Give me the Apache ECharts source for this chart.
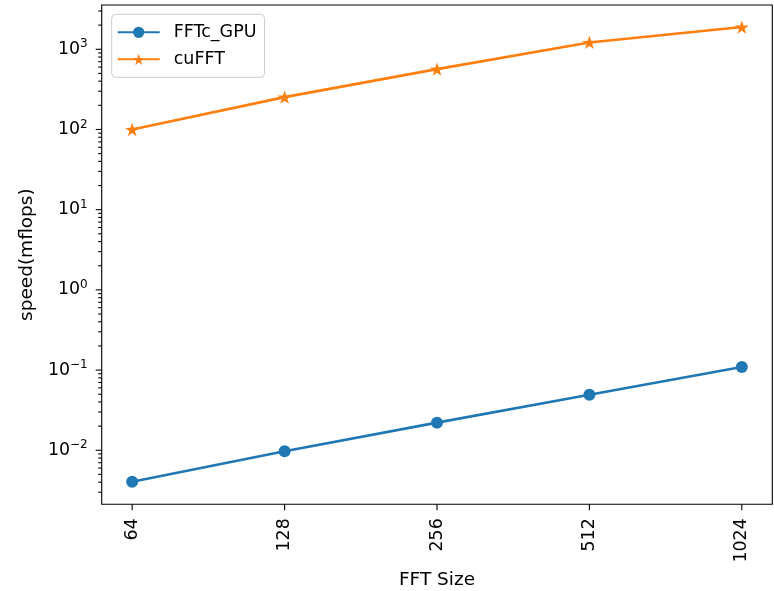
<!DOCTYPE html>
<html>
<head>
<meta charset="utf-8">
<script src="https://cdn.jsdelivr.net/npm/echarts@6/dist/echarts.min.js"></script>
<style>html,body{margin:0;padding:0;background:#fff;}#chart{width:774px;height:591px;}</style>
</head>
<body>
<div id="chart"></div>
<script>
// ---- data ----
var fftSizes = [64, 128, 256, 512, 1024];
var fftcGpu = [0.00406, 0.00972, 0.0221, 0.0493, 0.109];
var cuFFT = [100, 253, 566, 1216, 1892];
var seriesNames = ['FFTc_GPU', 'cuFFT'];
var yMajorTicks = [0.01, 0.1, 1, 10, 100, 1000];
var xTicks = [64, 128, 256, 512, 1024];
var xMin = 55.72, xMax = 1176.3;
var yMin = 0.00212, yMax = 3565;

// minor ticks for the log y axis (2..9 x 10^n)
var yMinorTicks = [];
for (var e = -3; e <= 3; e++) {
  for (var m = 2; m <= 9; m++) {
    var v = m * Math.pow(10, e);
    if (v > yMin && v < yMax) yMinorTicks.push(v);
  }
}

var tickData = [];
yMajorTicks.forEach(function (v) { tickData.push([xMin, v, 0]); });
yMinorTicks.forEach(function (v) { tickData.push([xMin, v, 1]); });
xTicks.forEach(function (v) { tickData.push([v, yMin, 2]); });

var FONT = 'DejaVu Sans';
var starPath = 'path://M0,-10L2.35,-3.24L9.51,-3.09L3.8,1.24L5.88,8.09L0,4L-5.88,8.09L-3.8,1.24L-9.51,-3.09L-2.35,-3.24Z';

function supText(n) {
  return n < 0 ? '\u2212' + (-n) : String(n);
}

var chart = echarts.init(document.getElementById('chart'), null, {renderer: 'canvas'});
chart.setOption({
  animation: false,
  backgroundColor: '#ffffff',
  textStyle: {fontFamily: FONT, color: '#000'},
  grid: {
    left: 101.7, right: 1.7, top: 5, bottom: 86.7,
    containLabel: false, outerBoundsMode: 'none',
    show: true, borderColor: '#000', borderWidth: 1.1, backgroundColor: 'transparent'
  },
  legend: {
    data: seriesNames,
    orient: 'vertical',
    left: 111.7, top: 14.3,
    padding: [9, 8, 9, 5],
    itemWidth: 42, itemHeight: 14, itemGap: 9,
    backgroundColor: 'rgba(255,255,255,0.8)',
    borderColor: '#cccccc', borderWidth: 1, borderRadius: 4,
    textStyle: {fontFamily: FONT, fontSize: 17.5, color: '#000', lineHeight: 14, padding: [0, 0, 0, 9]}
  },
  xAxis: {
    type: 'log', logBase: 2, min: xMin, max: xMax,
    name: 'FFT Size', nameLocation: 'middle', nameGap: 65,
    nameTextStyle: {fontFamily: FONT, fontSize: 18.5, color: '#000'},
    axisLine: {show: false}, axisTick: {show: false}, splitLine: {show: false},
    axisLabel: {
      rotate: 90, margin: 14, fontFamily: FONT, fontSize: 17.4, color: '#000',
      showMinLabel: true, showMaxLabel: true,
      formatter: function (v) {
        var l = Math.log(v) / Math.LN2;
        if (Math.abs(l - Math.round(l)) > 1e-6) return '';
        return String(Math.round(v));
      }
    }
  },
  yAxis: {
    type: 'log', logBase: 10, min: yMin, max: yMax,
    name: 'speed(mflops)', nameLocation: 'middle', nameGap: 64,
    nameTextStyle: {fontFamily: FONT, fontSize: 18.5, color: '#000'},
    axisLine: {show: false}, axisTick: {show: false}, splitLine: {show: false},
    axisLabel: {
      margin: 14, fontFamily: FONT, color: '#000',
      formatter: function (v) {
        var l = Math.log10(v);
        if (Math.abs(l - Math.round(l)) > 1e-6) return '';
        return '{b|10}{sup|' + supText(Math.round(l)) + '}';
      },
      rich: {
        b: {fontFamily: FONT, fontSize: 17.4, color: '#000', lineHeight: 22},
        sup: {fontFamily: FONT, fontSize: 12, color: '#000', verticalAlign: 'top', lineHeight: 12}
      }
    }
  },
  series: [
    {
      name: seriesNames[0], type: 'line',
      data: fftSizes.map(function (s, i) { return [s, fftcGpu[i]]; }),
      symbol: 'circle', symbolSize: 12,
      lineStyle: {width: 2.6, color: '#1f77b4'},
      itemStyle: {color: '#1f77b4'},
      z: 3
    },
    {
      name: seriesNames[1], type: 'line',
      data: fftSizes.map(function (s, i) { return [s, cuFFT[i]]; }),
      symbol: starPath, symbolSize: 14, symbolKeepAspect: true,
      lineStyle: {width: 2.6, color: '#ff7f0e'},
      itemStyle: {color: '#ff7f0e'},
      z: 3
    },
    {
      name: 'ticks', type: 'custom', silent: true, clip: false,
      data: tickData,
      encode: {x: 0, y: 1},
      renderItem: function (params, api) {
        var p = api.coord([api.value(0), api.value(1)]);
        var kind = api.value(2);
        var shape;
        if (kind === 0) shape = {x1: p[0] - 6, y1: p[1], x2: p[0], y2: p[1]};
        else if (kind === 1) shape = {x1: p[0] - 3.5, y1: p[1], x2: p[0], y2: p[1]};
        else shape = {x1: p[0], y1: p[1], x2: p[0], y2: p[1] + 6};
        return {type: 'line', shape: shape, style: {stroke: '#000', lineWidth: 1.1}};
      },
      z: 1
    }
  ]
});
</script>
</body>
</html>
